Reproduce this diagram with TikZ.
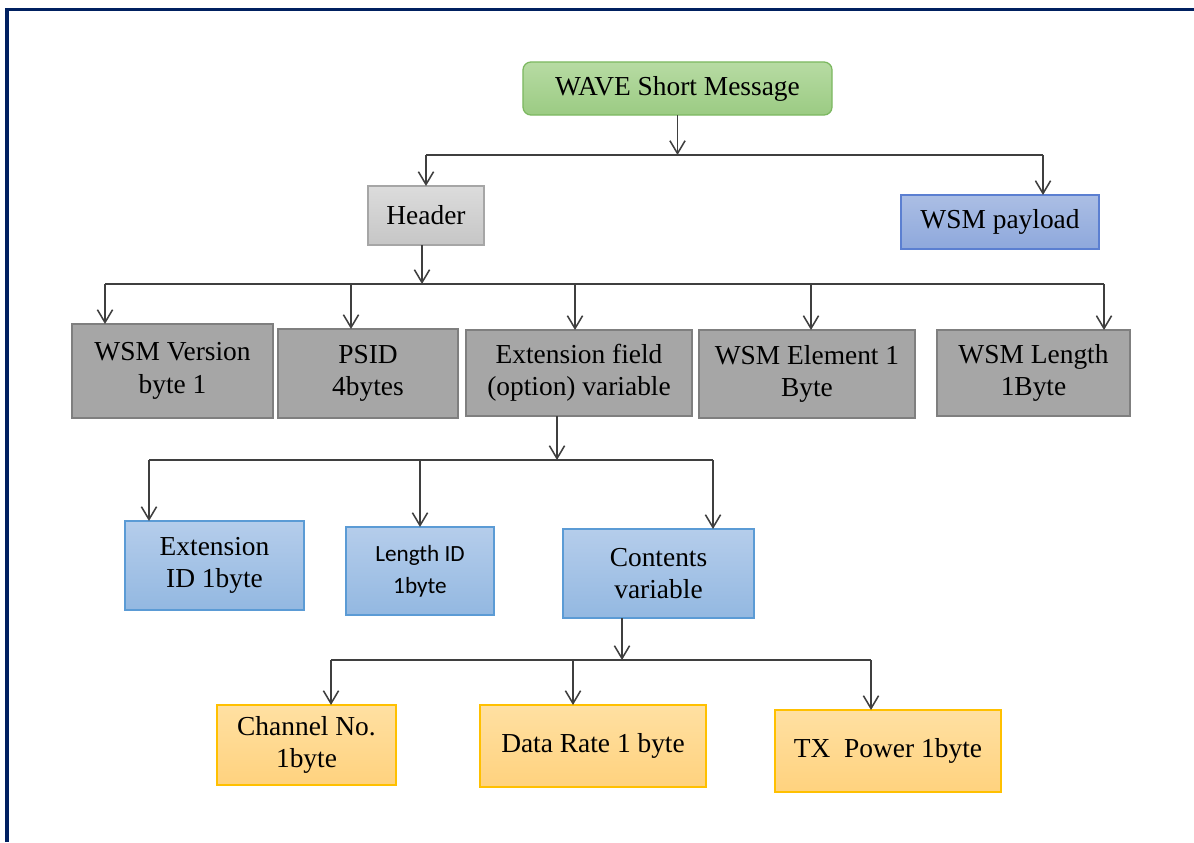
\documentclass[tikz,border=0pt]{standalone}
\usepackage{fontspec}
\setmainfont{Liberation Serif}
\newfontfamily\calibri{Carlito}
\usetikzlibrary{arrows.meta,calc}

\definecolor{framenavy}{HTML}{002060}
\definecolor{linegray}{HTML}{3F3F3F}
\definecolor{greenline}{HTML}{7CB860}
\definecolor{greentop}{HTML}{B7DBA3}
\definecolor{greenbot}{HTML}{9BCB83}
\definecolor{headline}{HTML}{A6A6A6}
\definecolor{headtop}{HTML}{DCDCDC}
\definecolor{headbot}{HTML}{C6C6C6}
\definecolor{payline}{HTML}{5B7FD1}
\definecolor{paytop}{HTML}{ABBEE4}
\definecolor{paybot}{HTML}{8EA8DC}
\definecolor{fieldline}{HTML}{7F7F7F}
\definecolor{fieldfill}{HTML}{A6A6A6}
\definecolor{extline}{HTML}{5B9BD5}
\definecolor{exttop}{HTML}{B5CDEB}
\definecolor{extbot}{HTML}{93B8E1}
\definecolor{subline}{HTML}{FFC000}
\definecolor{subtop}{HTML}{FFE0A2}
\definecolor{subbot}{HTML}{FFD27E}

\tikzset{
	box/.style={draw, line width=0.9pt, outer sep=0pt, inner sep=2pt, align=center,
		font=\fontsize{19.5pt}{23pt}\selectfont},
	wavebox/.style={box, rounded corners=0.2cm, draw=greenline, top color=greentop, bottom color=greenbot},
	headbox/.style={box, draw=headline, top color=headtop, bottom color=headbot},
	paybox/.style={box, draw=payline, top color=paytop, bottom color=paybot},
	fieldbox/.style={box, draw=fieldline, fill=fieldfill},
	extbox/.style={box, draw=extline, top color=exttop, bottom color=extbot},
	subbox/.style={box, draw=subline, top color=subtop, bottom color=subbot},
	bus/.style={line width=1.1pt, color=linegray},
	arr/.style={bus, -{Straight Barb[length=0.32cm, width=0.38cm, line width=1.1pt]}},
}

\begin{document}
\begin{tikzpicture}[x=0.025cm, y=-0.025cm]
			%%%%% START %%%%%
			\useasboundingbox (0,0) rectangle (1194,842);
			
			\draw[line width=2.5pt, color=framenavy] (7,842) -- (7,9.5) -- (1194,9.5);
			
			\node[wavebox, minimum width=7.725cm, minimum height=1.325cm] (wave) at (677.5,88.5) {WAVE Short Message};
			
			\node[headbox, minimum width=2.9cm, minimum height=1.475cm] (head) at (426,215.5) {Header};
			\node[paybox, minimum width=4.95cm, minimum height=1.35cm] (pay) at (1000,222) {WSM payload};
			
			\node[fieldbox, minimum width=5.025cm, minimum height=2.35cm] (ver) at (172.5,371) {WSM Version\\byte 1};
			\node[fieldbox, minimum width=4.5cm, minimum height=2.225cm] (psid) at (368,373.5) {PSID\\4bytes};
			\node[fieldbox, minimum width=5.65cm, minimum height=2.15cm] (ext) at (579,373) {Extension field\\(option) variable};
			\node[fieldbox, minimum width=5.4cm, minimum height=2.2cm] (elem) at (807,374) {WSM Element 1\\Byte};
			\node[fieldbox, minimum width=4.825cm, minimum height=2.15cm] (len) at (1033.5,373) {WSM Length\\1Byte};
			
			\node[extbox, minimum width=4.475cm, minimum height=2.225cm] (extid) at (214.5,565.5) {Extension\\ID 1byte};
			\node[extbox, minimum width=3.7cm, minimum height=2.2cm, font=\calibri\fontsize{16.5pt}{23pt}\selectfont] (lenid) at (420,571) {Length ID\\1byte};
			\node[extbox, minimum width=4.775cm, minimum height=2.225cm] (cont) at (658.5,573.5) {Contents\\variable};
			
			\node[subbox, minimum width=4.475cm, minimum height=2cm] (chan) at (306.5,745) {Channel No.\\1byte};
			\node[subbox, minimum width=5.65cm, minimum height=2.05cm] (rate) at (593,746) {Data Rate 1 byte};
			\node[subbox, minimum width=5.65cm, minimum height=2.05cm] (tx) at (888,751) {TX~~Power 1byte};
			
			% bus lines
			\coordinate (b1l) at (426,155);
			\coordinate (b1r) at (1043,155);
			\coordinate (b2l) at (105,284);
			\coordinate (b2m) at (422,284);
			\coordinate (b2r) at (1104,284);
			\coordinate (b3l) at (149,460);
			\coordinate (b3m) at (557,460);
			\coordinate (b3r) at (713,460);
			\coordinate (b4l) at (331,660);
			\coordinate (b4m) at (622,660);
			\coordinate (b4r) at (871,660);
			
			\draw[arr] (wave.south) -- (wave.south |- b1l);
			\draw[bus] (b1l) -- (b1r);
			\draw[arr] (b1l) -- (b1l |- head.north);
			\draw[arr] (b1r) -- (b1r |- pay.north);
			
			\draw[arr] (head.south -| b2m) -- (b2m);
			\draw[bus] (b2l) -- (b2r);
			\draw[arr] (b2l) -- (b2l |- ver.north);
			\draw[arr] (b2l -| 351,0) -- (351,0 |- psid.north);
			\draw[arr] (b2l -| 575,0) -- (575,0 |- ext.north);
			\draw[arr] (b2l -| 811,0) -- (811,0 |- elem.north);
			\draw[arr] (b2r) -- (b2r |- len.north);
			
			\draw[arr] (ext.south -| b3m) -- (b3m);
			\draw[bus] (b3l) -- (b3r);
			\draw[arr] (b3l) -- (b3l |- extid.north);
			\draw[arr] (b3l -| lenid.north) -- (lenid.north);
			\draw[arr] (b3r) -- (b3r |- cont.north);
			
			\draw[arr] (cont.south -| b4m) -- (b4m);
			\draw[bus] (b4l) -- (b4r);
			\draw[arr] (b4l) -- (b4l |- chan.north);
			\draw[arr] (b4l -| 573,0) -- (573,0 |- rate.north);
			\draw[arr] (b4r) -- (b4r |- tx.north);
			
			%%%%% END %%%%%
\end{tikzpicture}
\end{document}
